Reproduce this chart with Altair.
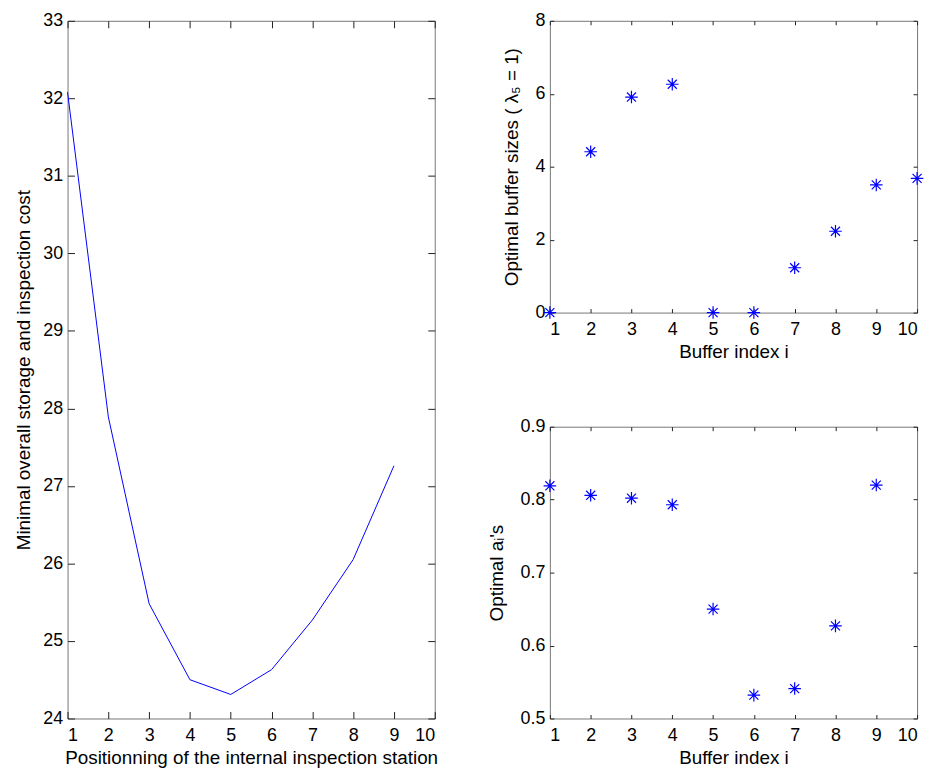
import altair as alt
import pandas as pd

# ---- data ----
station = [1, 2, 3, 4, 5, 6, 7, 8, 9]
cost = [32.08, 27.89, 25.48, 24.50, 24.31, 24.63, 25.27, 26.05, 27.26]

buf_idx = [1, 2, 3, 4, 5, 6, 7, 8, 9, 10]
buf_size = [0.0, 4.41, 5.91, 6.26, 0.0, 0.0, 1.23, 2.23, 3.50, 3.68]

a_idx = [1, 2, 3, 4, 5, 6, 7, 8, 9]
a_val = [0.819, 0.806, 0.802, 0.793, 0.650, 0.532, 0.541, 0.627, 0.820]

x_ticks = [1, 2, 3, 4, 5, 6, 7, 8, 9, 10]
cost_ticks = [24, 25, 26, 27, 28, 29, 30, 31, 32, 33]
size_ticks = [0, 2, 4, 6, 8]
a_ticks = [0.5, 0.6, 0.7, 0.8, 0.9]

FONT = "Liberation Sans"
BLUE = "#0000ff"
ASTERISK = "M-1,0L1,0M0,-1L0,1M-0.72,-0.72L0.72,0.72M-0.72,0.72L0.72,-0.72"


def panel(df, xf, yf, xdom, ydom, xt, yt, xtitle, ytitle, yfmt, tick, w, h,
          kind, ytp):
    xs = alt.Scale(domain=xdom, nice=False, zero=False)
    ys = alt.Scale(domain=ydom, nice=False, zero=False)
    common = dict(offset=-tick, tickSize=tick, domain=False, grid=False,
                  tickColor="#222222", tickWidth=1,
                  labelFont=FONT, titleFont=FONT, labelFontSize=18,
                  titleFontSize=19, labelColor="#000000",
                  titleColor="#000000", titleFontWeight="normal")
    x_main = alt.X(f"{xf}:Q", scale=xs,
                   axis=alt.Axis(values=xt, title=xtitle, orient="bottom",
                                 format="d", labelPadding=8, titlePadding=4,
                                 **common))
    y_main = alt.Y(f"{yf}:Q", scale=ys,
                   axis=alt.Axis(values=yt, title=ytitle, orient="left",
                                 format=yfmt, labelPadding=5,
                                 titlePadding=ytp, **common))
    x_top = alt.X(f"{xf}:Q", scale=xs,
                  axis=alt.Axis(values=xt, title=None, orient="top",
                                labels=False, **common))
    y_right = alt.Y(f"{yf}:Q", scale=ys,
                    axis=alt.Axis(values=yt, title=None, orient="right",
                                  labels=False, **common))
    base = alt.Chart(df)
    if kind == "line":
        main = base.mark_line(color=BLUE, strokeWidth=1).encode(x=x_main, y=y_main)
    else:
        main = base.mark_point(shape=ASTERISK, size=160, filled=False,
                               color=BLUE, strokeWidth=1.2, opacity=1).encode(
            x=x_main, y=y_main)
    carrier = base.mark_point(opacity=0, size=1).encode(x=x_top, y=y_right)
    return alt.layer(main, carrier).resolve_axis(
        x="independent", y="independent").properties(width=w, height=h)


df_cost = pd.DataFrame({"station": station, "cost": cost})
df_size = pd.DataFrame({"i": buf_idx, "size": buf_size})
df_a = pd.DataFrame({"i": a_idx, "a": a_val})

left = panel(df_cost, "station", "cost", [1, 10], [24, 33], x_ticks, cost_ticks,
             "Positionning of the internal inspection station",
             "Minimal overall storage and inspection cost", "d", 7, 370, 703,
             "line", 9)

top_right = panel(df_size, "i", "size", [1, 10], [0, 8], x_ticks, size_ticks,
                  "Buffer index i", "Optimal buffer sizes ( \u03bb\u2085 = 1)",
                  "d", 4, 370, 294, "point", 14)

bottom_right = panel(df_a, "i", "a", [1, 10], [0.5, 0.9], x_ticks, a_ticks,
                     "Buffer index i", "Optimal a\u1d62's", ".1f", 4, 370, 294,
                     "point", 14)

right = alt.vconcat(top_right, bottom_right, spacing=115, bounds="flush")

chart = alt.hconcat(left, right, spacing=116, bounds="flush").properties(
    padding={"left": 6, "top": 0, "right": 0, "bottom": 0},
    background="white",
).configure_view(
    stroke="#777777", strokeWidth=1
)

chart.save("out.html", embed_options={"renderer": "svg", "actions": False})
